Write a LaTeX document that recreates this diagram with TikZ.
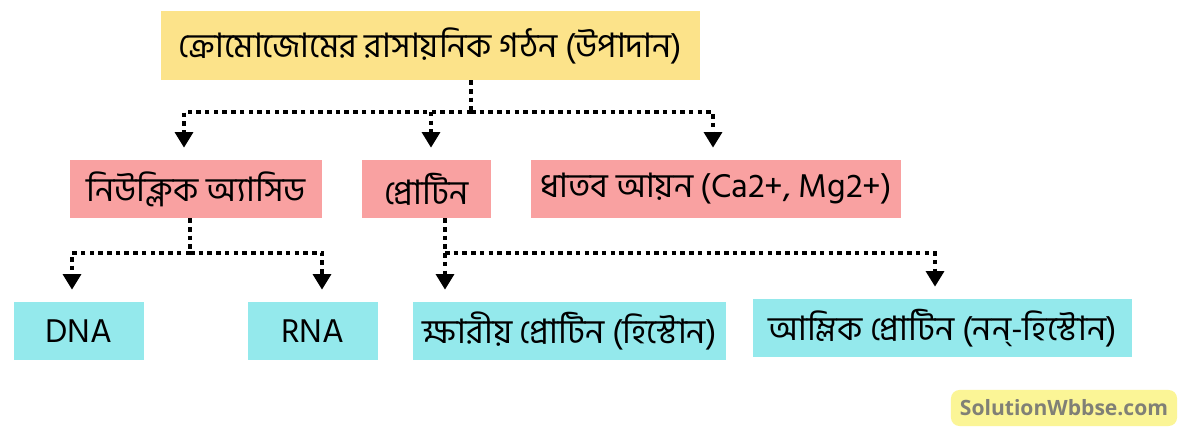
\documentclass[tikz,border=0pt]{standalone}
\usepackage{fontspec}
\newfontfamily\bnfont[Script=Bengali]{Hind Siliguri}
\newfontfamily\sitefont{Open Sans}
\usetikzlibrary{arrows.meta}

\definecolor{titleyellow}{RGB}{252,227,138}
\definecolor{partpink}{RGB}{249,161,161}
\definecolor{leafcyan}{RGB}{148,233,236}
\definecolor{siteyellow}{RGB}{251,245,150}
\definecolor{sitegray}{RGB}{128,128,118}

\tikzset{
  box/.style={inner sep=0pt,text=black,font=\bnfont\fontsize{24}{28}\selectfont},
  link/.style={line width=3.2pt,dash pattern=on 3.2pt off 3pt},
  tip/.style={link,-{Triangle[width=12.5pt,length=11pt]},shorten >=0.3cm},
}

\begin{document}
\begin{tikzpicture}[x=0.025cm,y=-0.025cm]
\useasboundingbox [fill=white] (0,0) rectangle (1200,439);

\node [box,fill=titleyellow,minimum width=13.475cm,minimum height=1.725cm] (chromosome) at (430.5,45.5) {ক্রোমোজোমের রাসায়নিক গঠন (উপাদান)};
\node [box,fill=partpink,minimum width=6.3cm,minimum height=1.45cm]   (nucleic)    at (196,189)   {নিউক্লিক অ্যাসিড};
\node [box,fill=partpink,minimum width=3.225cm,minimum height=1.45cm] (protein)    at (426.5,189) {প্রোটিন};
\node [box,fill=partpink,minimum width=9.25cm,minimum height=1.45cm]  (metal)      at (716,189)   {ধাতব আয়ন (Ca2+, Mg2+)};
\node [box,fill=leafcyan,minimum width=3.25cm,minimum height=1.45cm]  (dna)        at (79,331)    {DNA};
\node [box,fill=leafcyan,minimum width=3.25cm,minimum height=1.45cm]  (rna)        at (313,331)   {RNA};
\node [box,fill=leafcyan,minimum width=7.825cm,minimum height=1.45cm] (histone)    at (569.5,331) {ক্ষারীয় প্রোটিন (হিস্টোন)};
\node [box,fill=leafcyan,minimum width=9.475cm,minimum height=1.45cm] (nonhistone) at (942.5,328) {আম্লিক প্রোটিন (নন্-হিস্টোন)};
\node [fill=siteyellow,rounded corners=6pt,inner sep=0pt,minimum width=5.65cm,minimum height=0.9cm,
       text=sitegray,font=\sitefont\bfseries\fontsize{15}{17}\selectfont] (site) at (1064,408) {SolutionWbbse.com};

% split points of the dotted lines
\coordinate (split1) at (471,112);
\coordinate (left1)  at (184,112);
\coordinate (mid1)   at (431,112);
\coordinate (right1) at (713,112);
\coordinate (split2) at (190,253);
\coordinate (left2)  at (72,253);
\coordinate (right2) at (322,253);
\coordinate (split3) at (445,253);
\coordinate (right3) at (935,253);

\draw [link] (chromosome.south -| split1) -- (split1);
\draw [tip] (split1) -| (left1 |- nucleic.north);
\draw [tip] (split1) -| (right1 |- metal.north);
\draw [tip] (mid1) -- (mid1 |- protein.north);

\draw [link] (nucleic.south -| split2) -- (split2);
\draw [tip] (split2) -| (left2 |- dna.north);
\draw [tip] (split2) -| (right2 |- rna.north);

\draw [tip] (protein.south -| split3) -- (split3 |- histone.north);
\draw [tip] (split3) -| (right3 |- nonhistone.north);
\end{tikzpicture}
\end{document}
